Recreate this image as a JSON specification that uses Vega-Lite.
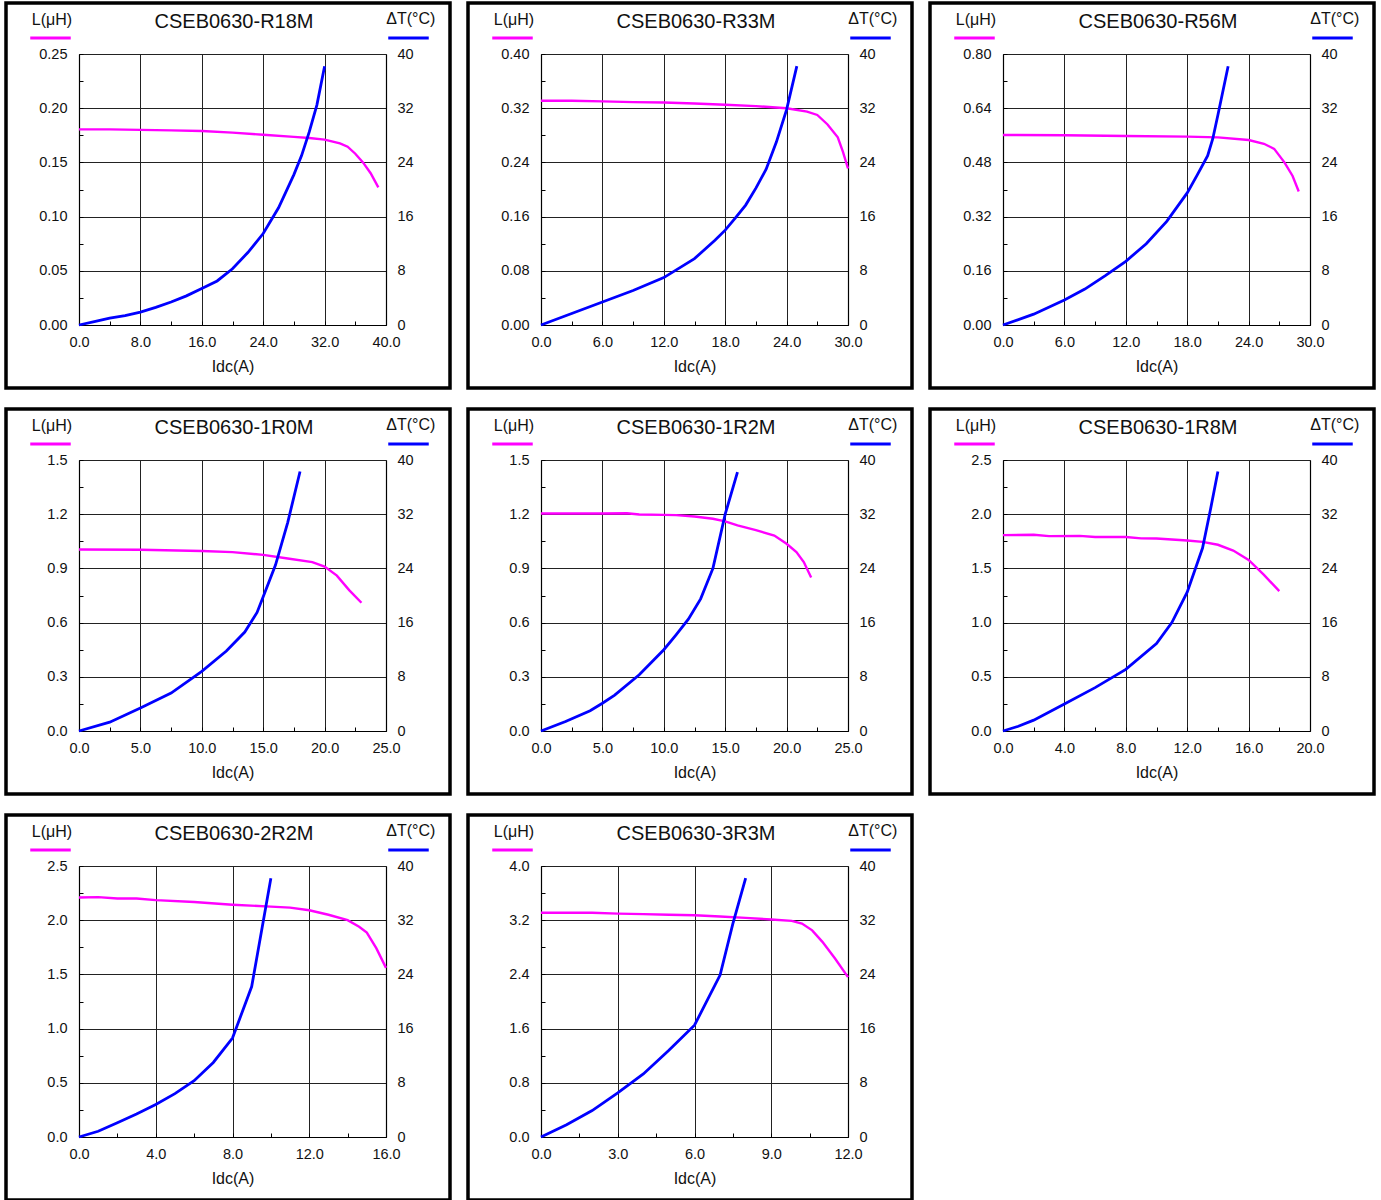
{
  "$schema": "https://vega.github.io/schema/vega-lite/v6.json",
  "padding": {"left": 4, "top": 1, "right": 0, "bottom": 0},
  "background": "white",
  "bounds": "flush",
  "columns": 3,
  "spacing": {"row": 21, "column": 18},
  "resolve": {"scale": {"color": "independent"}},
  "data": {"values": [
    {"p":"R18M","s":"L","i":0,"v":0.1805},{"p":"R18M","s":"L","i":4,"v":0.1805},{"p":"R18M","s":"L","i":8,"v":0.180},{"p":"R18M","s":"L","i":12,"v":0.1795},{"p":"R18M","s":"L","i":16,"v":0.179},{"p":"R18M","s":"L","i":20,"v":0.1775},{"p":"R18M","s":"L","i":24,"v":0.1755},{"p":"R18M","s":"L","i":28,"v":0.1735},{"p":"R18M","s":"L","i":30,"v":0.1725},{"p":"R18M","s":"L","i":32,"v":0.171},{"p":"R18M","s":"L","i":34,"v":0.1675},{"p":"R18M","s":"L","i":35,"v":0.1645},{"p":"R18M","s":"L","i":36,"v":0.158},{"p":"R18M","s":"L","i":37,"v":0.150},{"p":"R18M","s":"L","i":38,"v":0.140},{"p":"R18M","s":"L","i":39,"v":0.127},
    {"p":"R18M","s":"T","i":0,"v":0},{"p":"R18M","s":"T","i":2,"v":0.5},{"p":"R18M","s":"T","i":4,"v":1.0},{"p":"R18M","s":"T","i":6,"v":1.4},{"p":"R18M","s":"T","i":8,"v":1.9},{"p":"R18M","s":"T","i":10,"v":2.6},{"p":"R18M","s":"T","i":12,"v":3.4},{"p":"R18M","s":"T","i":14,"v":4.3},{"p":"R18M","s":"T","i":16,"v":5.4},{"p":"R18M","s":"T","i":18,"v":6.5},{"p":"R18M","s":"T","i":20,"v":8.3},{"p":"R18M","s":"T","i":22,"v":10.7},{"p":"R18M","s":"T","i":24,"v":13.5},{"p":"R18M","s":"T","i":26,"v":17.3},{"p":"R18M","s":"T","i":28,"v":22.2},{"p":"R18M","s":"T","i":29,"v":25.0},{"p":"R18M","s":"T","i":30,"v":28.5},{"p":"R18M","s":"T","i":31,"v":32.5},{"p":"R18M","s":"T","i":32,"v":38.2},

    {"p":"R33M","s":"L","i":0,"v":0.331},{"p":"R33M","s":"L","i":3,"v":0.331},{"p":"R33M","s":"L","i":6,"v":0.330},{"p":"R33M","s":"L","i":9,"v":0.329},{"p":"R33M","s":"L","i":12,"v":0.3285},{"p":"R33M","s":"L","i":15,"v":0.327},{"p":"R33M","s":"L","i":18,"v":0.325},{"p":"R33M","s":"L","i":21,"v":0.323},{"p":"R33M","s":"L","i":24,"v":0.320},{"p":"R33M","s":"L","i":26,"v":0.315},{"p":"R33M","s":"L","i":27,"v":0.310},{"p":"R33M","s":"L","i":28,"v":0.296},{"p":"R33M","s":"L","i":29,"v":0.277},{"p":"R33M","s":"L","i":29.5,"v":0.256},{"p":"R33M","s":"L","i":30,"v":0.231},
    {"p":"R33M","s":"T","i":0,"v":0},{"p":"R33M","s":"T","i":3,"v":1.7},{"p":"R33M","s":"T","i":6,"v":3.4},{"p":"R33M","s":"T","i":9,"v":5.1},{"p":"R33M","s":"T","i":12,"v":7.0},{"p":"R33M","s":"T","i":15,"v":9.8},{"p":"R33M","s":"T","i":17,"v":12.5},{"p":"R33M","s":"T","i":18,"v":14.0},{"p":"R33M","s":"T","i":19,"v":15.8},{"p":"R33M","s":"T","i":20,"v":17.7},{"p":"R33M","s":"T","i":21,"v":20.2},{"p":"R33M","s":"T","i":22,"v":23.0},{"p":"R33M","s":"T","i":23,"v":27.0},{"p":"R33M","s":"T","i":24,"v":31.8},{"p":"R33M","s":"T","i":25,"v":38.2},

    {"p":"R56M","s":"L","i":0,"v":0.561},{"p":"R56M","s":"L","i":6,"v":0.560},{"p":"R56M","s":"L","i":12,"v":0.558},{"p":"R56M","s":"L","i":18,"v":0.556},{"p":"R56M","s":"L","i":21,"v":0.554},{"p":"R56M","s":"L","i":24,"v":0.546},{"p":"R56M","s":"L","i":25.5,"v":0.535},{"p":"R56M","s":"L","i":26.5,"v":0.52},{"p":"R56M","s":"L","i":27.5,"v":0.48},{"p":"R56M","s":"L","i":28.3,"v":0.44},{"p":"R56M","s":"L","i":28.9,"v":0.394},
    {"p":"R56M","s":"T","i":0,"v":0},{"p":"R56M","s":"T","i":3,"v":1.6},{"p":"R56M","s":"T","i":6,"v":3.7},{"p":"R56M","s":"T","i":8,"v":5.3},{"p":"R56M","s":"T","i":10,"v":7.3},{"p":"R56M","s":"T","i":12,"v":9.4},{"p":"R56M","s":"T","i":14,"v":12.0},{"p":"R56M","s":"T","i":16,"v":15.3},{"p":"R56M","s":"T","i":18,"v":19.5},{"p":"R56M","s":"T","i":19,"v":22.2},{"p":"R56M","s":"T","i":20,"v":25.0},{"p":"R56M","s":"T","i":20.5,"v":27.5},{"p":"R56M","s":"T","i":21,"v":31.0},{"p":"R56M","s":"T","i":22,"v":38.2},

    {"p":"1R0M","s":"L","i":0,"v":1.005},{"p":"1R0M","s":"L","i":5,"v":1.003},{"p":"1R0M","s":"L","i":10,"v":0.996},{"p":"1R0M","s":"L","i":12.5,"v":0.99},{"p":"1R0M","s":"L","i":15,"v":0.975},{"p":"1R0M","s":"L","i":17,"v":0.955},{"p":"1R0M","s":"L","i":19,"v":0.935},{"p":"1R0M","s":"L","i":20,"v":0.91},{"p":"1R0M","s":"L","i":21,"v":0.86},{"p":"1R0M","s":"L","i":22,"v":0.78},{"p":"1R0M","s":"L","i":23,"v":0.71},
    {"p":"1R0M","s":"T","i":0,"v":0},{"p":"1R0M","s":"T","i":2.5,"v":1.3},{"p":"1R0M","s":"T","i":5,"v":3.4},{"p":"1R0M","s":"T","i":7.5,"v":5.6},{"p":"1R0M","s":"T","i":10,"v":8.8},{"p":"1R0M","s":"T","i":12,"v":11.8},{"p":"1R0M","s":"T","i":13.5,"v":14.6},{"p":"1R0M","s":"T","i":14.5,"v":17.5},{"p":"1R0M","s":"T","i":15,"v":19.8},{"p":"1R0M","s":"T","i":16,"v":24.5},{"p":"1R0M","s":"T","i":17,"v":30.8},{"p":"1R0M","s":"T","i":18,"v":38.3},

    {"p":"1R2M","s":"L","i":0,"v":1.204},{"p":"1R2M","s":"L","i":5,"v":1.204},{"p":"1R2M","s":"L","i":7,"v":1.205},{"p":"1R2M","s":"L","i":8,"v":1.198},{"p":"1R2M","s":"L","i":10,"v":1.196},{"p":"1R2M","s":"L","i":11,"v":1.195},{"p":"1R2M","s":"L","i":12.5,"v":1.187},{"p":"1R2M","s":"L","i":14,"v":1.175},{"p":"1R2M","s":"L","i":15,"v":1.16},{"p":"1R2M","s":"L","i":16,"v":1.138},{"p":"1R2M","s":"L","i":17.5,"v":1.112},{"p":"1R2M","s":"L","i":19,"v":1.082},{"p":"1R2M","s":"L","i":20,"v":1.036},{"p":"1R2M","s":"L","i":20.8,"v":0.99},{"p":"1R2M","s":"L","i":21.4,"v":0.935},{"p":"1R2M","s":"L","i":22,"v":0.85},
    {"p":"1R2M","s":"T","i":0,"v":0},{"p":"1R2M","s":"T","i":2,"v":1.4},{"p":"1R2M","s":"T","i":4,"v":3.0},{"p":"1R2M","s":"T","i":5,"v":4.1},{"p":"1R2M","s":"T","i":6,"v":5.3},{"p":"1R2M","s":"T","i":8,"v":8.3},{"p":"1R2M","s":"T","i":10,"v":12.0},{"p":"1R2M","s":"T","i":11,"v":14.2},{"p":"1R2M","s":"T","i":12,"v":16.5},{"p":"1R2M","s":"T","i":13,"v":19.5},{"p":"1R2M","s":"T","i":14,"v":24.0},{"p":"1R2M","s":"T","i":15,"v":32.0},{"p":"1R2M","s":"T","i":16,"v":38.2},

    {"p":"1R8M","s":"L","i":0,"v":1.807},{"p":"1R8M","s":"L","i":2,"v":1.81},{"p":"1R8M","s":"L","i":3,"v":1.798},{"p":"1R8M","s":"L","i":5,"v":1.80},{"p":"1R8M","s":"L","i":6,"v":1.79},{"p":"1R8M","s":"L","i":8,"v":1.79},{"p":"1R8M","s":"L","i":9,"v":1.777},{"p":"1R8M","s":"L","i":10,"v":1.776},{"p":"1R8M","s":"L","i":12,"v":1.757},{"p":"1R8M","s":"L","i":13,"v":1.745},{"p":"1R8M","s":"L","i":14,"v":1.718},{"p":"1R8M","s":"L","i":15,"v":1.665},{"p":"1R8M","s":"L","i":16,"v":1.578},{"p":"1R8M","s":"L","i":17,"v":1.44},{"p":"1R8M","s":"L","i":18,"v":1.29},
    {"p":"1R8M","s":"T","i":0,"v":0},{"p":"1R8M","s":"T","i":1,"v":0.7},{"p":"1R8M","s":"T","i":2,"v":1.6},{"p":"1R8M","s":"T","i":4,"v":4.0},{"p":"1R8M","s":"T","i":6,"v":6.4},{"p":"1R8M","s":"T","i":8,"v":9.1},{"p":"1R8M","s":"T","i":10,"v":12.9},{"p":"1R8M","s":"T","i":11,"v":16.0},{"p":"1R8M","s":"T","i":12,"v":20.5},{"p":"1R8M","s":"T","i":13,"v":27.0},{"p":"1R8M","s":"T","i":13.5,"v":32.5},{"p":"1R8M","s":"T","i":14,"v":38.3},

    {"p":"2R2M","s":"L","i":0,"v":2.21},{"p":"2R2M","s":"L","i":1,"v":2.213},{"p":"2R2M","s":"L","i":2,"v":2.20},{"p":"2R2M","s":"L","i":3,"v":2.20},{"p":"2R2M","s":"L","i":4,"v":2.185},{"p":"2R2M","s":"L","i":6,"v":2.168},{"p":"2R2M","s":"L","i":8,"v":2.143},{"p":"2R2M","s":"L","i":10,"v":2.125},{"p":"2R2M","s":"L","i":11,"v":2.116},{"p":"2R2M","s":"L","i":12,"v":2.092},{"p":"2R2M","s":"L","i":13,"v":2.05},{"p":"2R2M","s":"L","i":14,"v":2.0},{"p":"2R2M","s":"L","i":14.6,"v":1.94},{"p":"2R2M","s":"L","i":15,"v":1.885},{"p":"2R2M","s":"L","i":15.5,"v":1.74},{"p":"2R2M","s":"L","i":16,"v":1.56},
    {"p":"2R2M","s":"T","i":0,"v":0},{"p":"2R2M","s":"T","i":1,"v":0.85},{"p":"2R2M","s":"T","i":2,"v":2.1},{"p":"2R2M","s":"T","i":3,"v":3.4},{"p":"2R2M","s":"T","i":4,"v":4.8},{"p":"2R2M","s":"T","i":5,"v":6.4},{"p":"2R2M","s":"T","i":6,"v":8.3},{"p":"2R2M","s":"T","i":7,"v":11.0},{"p":"2R2M","s":"T","i":8,"v":14.6},{"p":"2R2M","s":"T","i":9,"v":22.2},{"p":"2R2M","s":"T","i":10,"v":38.2},

    {"p":"3R3M","s":"L","i":0,"v":3.31},{"p":"3R3M","s":"L","i":2,"v":3.31},{"p":"3R3M","s":"L","i":3,"v":3.297},{"p":"3R3M","s":"L","i":4,"v":3.29},{"p":"3R3M","s":"L","i":5,"v":3.28},{"p":"3R3M","s":"L","i":6,"v":3.272},{"p":"3R3M","s":"L","i":7,"v":3.255},{"p":"3R3M","s":"L","i":8,"v":3.235},{"p":"3R3M","s":"L","i":9,"v":3.21},{"p":"3R3M","s":"L","i":9.8,"v":3.19},{"p":"3R3M","s":"L","i":10.2,"v":3.15},{"p":"3R3M","s":"L","i":10.6,"v":3.05},{"p":"3R3M","s":"L","i":11,"v":2.88},{"p":"3R3M","s":"L","i":11.5,"v":2.63},{"p":"3R3M","s":"L","i":12,"v":2.36},
    {"p":"3R3M","s":"T","i":0,"v":0},{"p":"3R3M","s":"T","i":1,"v":1.8},{"p":"3R3M","s":"T","i":2,"v":3.9},{"p":"3R3M","s":"T","i":3,"v":6.5},{"p":"3R3M","s":"T","i":4,"v":9.3},{"p":"3R3M","s":"T","i":5,"v":12.8},{"p":"3R3M","s":"T","i":6,"v":16.5},{"p":"3R3M","s":"T","i":7,"v":23.9},{"p":"3R3M","s":"T","i":7.5,"v":31.5},{"p":"3R3M","s":"T","i":8,"v":38.2}
  ]},
  "concat": [
    {"title": "CSEB0630-R18M", "width": 444, "height": 385,
     "transform": [{"filter": "datum.p=='R18M'"}],
     "layer": [
      {"transform": [{"filter": "datum.s=='L'"}], "mark": {"type": "line", "opacity": 0},
       "encoding": {
        "x": {"field": "i", "type": "quantitative", "scale": {"domain": [0, 40], "range": [73, 380], "nice": false, "zero": false},
              "axis": {"orient": "top", "offset": 0, "grid": true, "labels": false, "ticks": false, "domain": false, "title": null, "values": [0,8,16,24,32,40]}},
        "y": {"field": "v", "type": "quantitative", "scale": {"domain": [0, 0.25], "range": [322, 51], "nice": false},
              "axis": {"orient": "left", "offset": 0, "grid": true, "labels": false, "ticks": false, "domain": false, "title": null, "values": [0,0.05,0.1,0.15,0.2,0.25]}}
       }},
      {"transform": [{"filter": "datum.s=='L'"}], "mark": {"type": "line", "strokeWidth": 2.4},
       "encoding": {
        "x": {"field": "i", "type": "quantitative",
              "axis": {"orient": "bottom", "grid": false, "title": "Idc(A)", "values": [0,4,8,12,16,20,24,28,32,36,40], "format": ".1f", "labelExpr": "round(datum.index*10)%2==0 ? datum.label : ''"}},
        "y": {"field": "v", "type": "quantitative", "scale": {"domain": [0, 0.25], "range": [322, 51], "nice": false},
              "axis": {"orient": "left", "grid": false, "title": "L(μH)", "values": [0,0.025,0.05,0.075,0.1,0.125,0.15,0.175,0.2,0.225,0.25], "format": ".2f", "labelExpr": "round(datum.index*10)%2==0 ? datum.label : ''"}},
        "color": {"field": "s", "type": "nominal", "scale": {"domain": ["L", "T"], "range": ["#ff00ff", "#0000ff"]},
                  "legend": {"title": null, "orient": "none", "legendX": 22.5, "legendY": 13, "direction": "horizontal", "columns": 2, "columnPadding": 304, "symbolType": "stroke", "symbolSize": 1640, "symbolStrokeWidth": 3, "labelExpr": "''", "labelOffset": 0, "padding": 0}}
       }},
      {"transform": [{"filter": "datum.s=='T'"}], "mark": {"type": "line", "strokeWidth": 2.8},
       "encoding": {
        "x": {"field": "i", "type": "quantitative", "axis": null},
        "y": {"field": "v", "type": "quantitative", "scale": {"domain": [0, 40], "range": [322, 51], "nice": false},
              "axis": {"orient": "right", "title": "ΔT(°C)", "values": [0,8,16,24,32,40], "format": "d", "grid": false}},
        "color": {"field": "s", "type": "nominal"}
       }}
     ],
     "resolve": {"scale": {"y": "independent"}, "axis": {"x": "independent", "y": "independent"}}},

    {"title": "CSEB0630-R33M", "width": 444, "height": 385,
     "transform": [{"filter": "datum.p=='R33M'"}],
     "layer": [
      {"transform": [{"filter": "datum.s=='L'"}], "mark": {"type": "line", "opacity": 0},
       "encoding": {
        "x": {"field": "i", "type": "quantitative", "scale": {"domain": [0, 30], "range": [73, 380], "nice": false, "zero": false},
              "axis": {"orient": "top", "offset": 0, "grid": true, "labels": false, "ticks": false, "domain": false, "title": null, "values": [0,6,12,18,24,30]}},
        "y": {"field": "v", "type": "quantitative", "scale": {"domain": [0, 0.4], "range": [322, 51], "nice": false},
              "axis": {"orient": "left", "offset": 0, "grid": true, "labels": false, "ticks": false, "domain": false, "title": null, "values": [0,0.08,0.16,0.24,0.32,0.4]}}
       }},
      {"transform": [{"filter": "datum.s=='L'"}], "mark": {"type": "line", "strokeWidth": 2.4},
       "encoding": {
        "x": {"field": "i", "type": "quantitative",
              "axis": {"orient": "bottom", "grid": false, "title": "Idc(A)", "values": [0,3,6,9,12,15,18,21,24,27,30], "format": ".1f", "labelExpr": "round(datum.index*10)%2==0 ? datum.label : ''"}},
        "y": {"field": "v", "type": "quantitative", "scale": {"domain": [0, 0.4], "range": [322, 51], "nice": false},
              "axis": {"orient": "left", "grid": false, "title": "L(μH)", "values": [0,0.04,0.08,0.12,0.16,0.2,0.24,0.28,0.32,0.36,0.4], "format": ".2f", "labelExpr": "round(datum.index*10)%2==0 ? datum.label : ''"}},
        "color": {"field": "s", "type": "nominal", "scale": {"domain": ["L", "T"], "range": ["#ff00ff", "#0000ff"]},
                  "legend": {"title": null, "orient": "none", "legendX": 22.5, "legendY": 13, "direction": "horizontal", "columns": 2, "columnPadding": 304, "symbolType": "stroke", "symbolSize": 1640, "symbolStrokeWidth": 3, "labelExpr": "''", "labelOffset": 0, "padding": 0}}
       }},
      {"transform": [{"filter": "datum.s=='T'"}], "mark": {"type": "line", "strokeWidth": 2.8},
       "encoding": {
        "x": {"field": "i", "type": "quantitative", "axis": null},
        "y": {"field": "v", "type": "quantitative", "scale": {"domain": [0, 40], "range": [322, 51], "nice": false},
              "axis": {"orient": "right", "title": "ΔT(°C)", "values": [0,8,16,24,32,40], "format": "d", "grid": false}},
        "color": {"field": "s", "type": "nominal"}
       }}
     ],
     "resolve": {"scale": {"y": "independent"}, "axis": {"x": "independent", "y": "independent"}}},

    {"title": "CSEB0630-R56M", "width": 444, "height": 385,
     "transform": [{"filter": "datum.p=='R56M'"}],
     "layer": [
      {"transform": [{"filter": "datum.s=='L'"}], "mark": {"type": "line", "opacity": 0},
       "encoding": {
        "x": {"field": "i", "type": "quantitative", "scale": {"domain": [0, 30], "range": [73, 380], "nice": false, "zero": false},
              "axis": {"orient": "top", "offset": 0, "grid": true, "labels": false, "ticks": false, "domain": false, "title": null, "values": [0,6,12,18,24,30]}},
        "y": {"field": "v", "type": "quantitative", "scale": {"domain": [0, 0.8], "range": [322, 51], "nice": false},
              "axis": {"orient": "left", "offset": 0, "grid": true, "labels": false, "ticks": false, "domain": false, "title": null, "values": [0,0.16,0.32,0.48,0.64,0.8]}}
       }},
      {"transform": [{"filter": "datum.s=='L'"}], "mark": {"type": "line", "strokeWidth": 2.4},
       "encoding": {
        "x": {"field": "i", "type": "quantitative",
              "axis": {"orient": "bottom", "grid": false, "title": "Idc(A)", "values": [0,3,6,9,12,15,18,21,24,27,30], "format": ".1f", "labelExpr": "round(datum.index*10)%2==0 ? datum.label : ''"}},
        "y": {"field": "v", "type": "quantitative", "scale": {"domain": [0, 0.8], "range": [322, 51], "nice": false},
              "axis": {"orient": "left", "grid": false, "title": "L(μH)", "values": [0,0.08,0.16,0.24,0.32,0.4,0.48,0.56,0.64,0.72,0.8], "format": ".2f", "labelExpr": "round(datum.index*10)%2==0 ? datum.label : ''"}},
        "color": {"field": "s", "type": "nominal", "scale": {"domain": ["L", "T"], "range": ["#ff00ff", "#0000ff"]},
                  "legend": {"title": null, "orient": "none", "legendX": 22.5, "legendY": 13, "direction": "horizontal", "columns": 2, "columnPadding": 304, "symbolType": "stroke", "symbolSize": 1640, "symbolStrokeWidth": 3, "labelExpr": "''", "labelOffset": 0, "padding": 0}}
       }},
      {"transform": [{"filter": "datum.s=='T'"}], "mark": {"type": "line", "strokeWidth": 2.8},
       "encoding": {
        "x": {"field": "i", "type": "quantitative", "axis": null},
        "y": {"field": "v", "type": "quantitative", "scale": {"domain": [0, 40], "range": [322, 51], "nice": false},
              "axis": {"orient": "right", "title": "ΔT(°C)", "values": [0,8,16,24,32,40], "format": "d", "grid": false}},
        "color": {"field": "s", "type": "nominal"}
       }}
     ],
     "resolve": {"scale": {"y": "independent"}, "axis": {"x": "independent", "y": "independent"}}},

    {"title": "CSEB0630-1R0M", "width": 444, "height": 385,
     "transform": [{"filter": "datum.p=='1R0M'"}],
     "layer": [
      {"transform": [{"filter": "datum.s=='L'"}], "mark": {"type": "line", "opacity": 0},
       "encoding": {
        "x": {"field": "i", "type": "quantitative", "scale": {"domain": [0, 25], "range": [73, 380], "nice": false, "zero": false},
              "axis": {"orient": "top", "offset": 0, "grid": true, "labels": false, "ticks": false, "domain": false, "title": null, "values": [0,5,10,15,20,25]}},
        "y": {"field": "v", "type": "quantitative", "scale": {"domain": [0, 1.5], "range": [322, 51], "nice": false},
              "axis": {"orient": "left", "offset": 0, "grid": true, "labels": false, "ticks": false, "domain": false, "title": null, "values": [0,0.3,0.6,0.9,1.2,1.5]}}
       }},
      {"transform": [{"filter": "datum.s=='L'"}], "mark": {"type": "line", "strokeWidth": 2.4},
       "encoding": {
        "x": {"field": "i", "type": "quantitative",
              "axis": {"orient": "bottom", "grid": false, "title": "Idc(A)", "values": [0,2.5,5,7.5,10,12.5,15,17.5,20,22.5,25], "format": ".1f", "labelExpr": "round(datum.index*10)%2==0 ? datum.label : ''"}},
        "y": {"field": "v", "type": "quantitative", "scale": {"domain": [0, 1.5], "range": [322, 51], "nice": false},
              "axis": {"orient": "left", "grid": false, "title": "L(μH)", "values": [0,0.15,0.3,0.45,0.6,0.75,0.9,1.05,1.2,1.35,1.5], "format": ".1f", "labelExpr": "round(datum.index*10)%2==0 ? datum.label : ''"}},
        "color": {"field": "s", "type": "nominal", "scale": {"domain": ["L", "T"], "range": ["#ff00ff", "#0000ff"]},
                  "legend": {"title": null, "orient": "none", "legendX": 22.5, "legendY": 13, "direction": "horizontal", "columns": 2, "columnPadding": 304, "symbolType": "stroke", "symbolSize": 1640, "symbolStrokeWidth": 3, "labelExpr": "''", "labelOffset": 0, "padding": 0}}
       }},
      {"transform": [{"filter": "datum.s=='T'"}], "mark": {"type": "line", "strokeWidth": 2.8},
       "encoding": {
        "x": {"field": "i", "type": "quantitative", "axis": null},
        "y": {"field": "v", "type": "quantitative", "scale": {"domain": [0, 40], "range": [322, 51], "nice": false},
              "axis": {"orient": "right", "title": "ΔT(°C)", "values": [0,8,16,24,32,40], "format": "d", "grid": false}},
        "color": {"field": "s", "type": "nominal"}
       }}
     ],
     "resolve": {"scale": {"y": "independent"}, "axis": {"x": "independent", "y": "independent"}}},

    {"title": "CSEB0630-1R2M", "width": 444, "height": 385,
     "transform": [{"filter": "datum.p=='1R2M'"}],
     "layer": [
      {"transform": [{"filter": "datum.s=='L'"}], "mark": {"type": "line", "opacity": 0},
       "encoding": {
        "x": {"field": "i", "type": "quantitative", "scale": {"domain": [0, 25], "range": [73, 380], "nice": false, "zero": false},
              "axis": {"orient": "top", "offset": 0, "grid": true, "labels": false, "ticks": false, "domain": false, "title": null, "values": [0,5,10,15,20,25]}},
        "y": {"field": "v", "type": "quantitative", "scale": {"domain": [0, 1.5], "range": [322, 51], "nice": false},
              "axis": {"orient": "left", "offset": 0, "grid": true, "labels": false, "ticks": false, "domain": false, "title": null, "values": [0,0.3,0.6,0.9,1.2,1.5]}}
       }},
      {"transform": [{"filter": "datum.s=='L'"}], "mark": {"type": "line", "strokeWidth": 2.4},
       "encoding": {
        "x": {"field": "i", "type": "quantitative",
              "axis": {"orient": "bottom", "grid": false, "title": "Idc(A)", "values": [0,2.5,5,7.5,10,12.5,15,17.5,20,22.5,25], "format": ".1f", "labelExpr": "round(datum.index*10)%2==0 ? datum.label : ''"}},
        "y": {"field": "v", "type": "quantitative", "scale": {"domain": [0, 1.5], "range": [322, 51], "nice": false},
              "axis": {"orient": "left", "grid": false, "title": "L(μH)", "values": [0,0.15,0.3,0.45,0.6,0.75,0.9,1.05,1.2,1.35,1.5], "format": ".1f", "labelExpr": "round(datum.index*10)%2==0 ? datum.label : ''"}},
        "color": {"field": "s", "type": "nominal", "scale": {"domain": ["L", "T"], "range": ["#ff00ff", "#0000ff"]},
                  "legend": {"title": null, "orient": "none", "legendX": 22.5, "legendY": 13, "direction": "horizontal", "columns": 2, "columnPadding": 304, "symbolType": "stroke", "symbolSize": 1640, "symbolStrokeWidth": 3, "labelExpr": "''", "labelOffset": 0, "padding": 0}}
       }},
      {"transform": [{"filter": "datum.s=='T'"}], "mark": {"type": "line", "strokeWidth": 2.8},
       "encoding": {
        "x": {"field": "i", "type": "quantitative", "axis": null},
        "y": {"field": "v", "type": "quantitative", "scale": {"domain": [0, 40], "range": [322, 51], "nice": false},
              "axis": {"orient": "right", "title": "ΔT(°C)", "values": [0,8,16,24,32,40], "format": "d", "grid": false}},
        "color": {"field": "s", "type": "nominal"}
       }}
     ],
     "resolve": {"scale": {"y": "independent"}, "axis": {"x": "independent", "y": "independent"}}},

    {"title": "CSEB0630-1R8M", "width": 444, "height": 385,
     "transform": [{"filter": "datum.p=='1R8M'"}],
     "layer": [
      {"transform": [{"filter": "datum.s=='L'"}], "mark": {"type": "line", "opacity": 0},
       "encoding": {
        "x": {"field": "i", "type": "quantitative", "scale": {"domain": [0, 20], "range": [73, 380], "nice": false, "zero": false},
              "axis": {"orient": "top", "offset": 0, "grid": true, "labels": false, "ticks": false, "domain": false, "title": null, "values": [0,4,8,12,16,20]}},
        "y": {"field": "v", "type": "quantitative", "scale": {"domain": [0, 2.5], "range": [322, 51], "nice": false},
              "axis": {"orient": "left", "offset": 0, "grid": true, "labels": false, "ticks": false, "domain": false, "title": null, "values": [0,0.5,1,1.5,2,2.5]}}
       }},
      {"transform": [{"filter": "datum.s=='L'"}], "mark": {"type": "line", "strokeWidth": 2.4},
       "encoding": {
        "x": {"field": "i", "type": "quantitative",
              "axis": {"orient": "bottom", "grid": false, "title": "Idc(A)", "values": [0,2,4,6,8,10,12,14,16,18,20], "format": ".1f", "labelExpr": "round(datum.index*10)%2==0 ? datum.label : ''"}},
        "y": {"field": "v", "type": "quantitative", "scale": {"domain": [0, 2.5], "range": [322, 51], "nice": false},
              "axis": {"orient": "left", "grid": false, "title": "L(μH)", "values": [0,0.25,0.5,0.75,1,1.25,1.5,1.75,2,2.25,2.5], "format": ".1f", "labelExpr": "round(datum.index*10)%2==0 ? datum.label : ''"}},
        "color": {"field": "s", "type": "nominal", "scale": {"domain": ["L", "T"], "range": ["#ff00ff", "#0000ff"]},
                  "legend": {"title": null, "orient": "none", "legendX": 22.5, "legendY": 13, "direction": "horizontal", "columns": 2, "columnPadding": 304, "symbolType": "stroke", "symbolSize": 1640, "symbolStrokeWidth": 3, "labelExpr": "''", "labelOffset": 0, "padding": 0}}
       }},
      {"transform": [{"filter": "datum.s=='T'"}], "mark": {"type": "line", "strokeWidth": 2.8},
       "encoding": {
        "x": {"field": "i", "type": "quantitative", "axis": null},
        "y": {"field": "v", "type": "quantitative", "scale": {"domain": [0, 40], "range": [322, 51], "nice": false},
              "axis": {"orient": "right", "title": "ΔT(°C)", "values": [0,8,16,24,32,40], "format": "d", "grid": false}},
        "color": {"field": "s", "type": "nominal"}
       }}
     ],
     "resolve": {"scale": {"y": "independent"}, "axis": {"x": "independent", "y": "independent"}}},

    {"title": "CSEB0630-2R2M", "width": 444, "height": 385,
     "transform": [{"filter": "datum.p=='2R2M'"}],
     "layer": [
      {"transform": [{"filter": "datum.s=='L'"}], "mark": {"type": "line", "opacity": 0},
       "encoding": {
        "x": {"field": "i", "type": "quantitative", "scale": {"domain": [0, 16], "range": [73, 380], "nice": false, "zero": false},
              "axis": {"orient": "top", "offset": 0, "grid": true, "labels": false, "ticks": false, "domain": false, "title": null, "values": [0,4,8,12,16]}},
        "y": {"field": "v", "type": "quantitative", "scale": {"domain": [0, 2.5], "range": [322, 51], "nice": false},
              "axis": {"orient": "left", "offset": 0, "grid": true, "labels": false, "ticks": false, "domain": false, "title": null, "values": [0,0.5,1,1.5,2,2.5]}}
       }},
      {"transform": [{"filter": "datum.s=='L'"}], "mark": {"type": "line", "strokeWidth": 2.4},
       "encoding": {
        "x": {"field": "i", "type": "quantitative",
              "axis": {"orient": "bottom", "grid": false, "title": "Idc(A)", "values": [0,2,4,6,8,10,12,14,16], "format": ".1f", "labelExpr": "round(datum.index*8)%2==0 ? datum.label : ''"}},
        "y": {"field": "v", "type": "quantitative", "scale": {"domain": [0, 2.5], "range": [322, 51], "nice": false},
              "axis": {"orient": "left", "grid": false, "title": "L(μH)", "values": [0,0.25,0.5,0.75,1,1.25,1.5,1.75,2,2.25,2.5], "format": ".1f", "labelExpr": "round(datum.index*10)%2==0 ? datum.label : ''"}},
        "color": {"field": "s", "type": "nominal", "scale": {"domain": ["L", "T"], "range": ["#ff00ff", "#0000ff"]},
                  "legend": {"title": null, "orient": "none", "legendX": 22.5, "legendY": 13, "direction": "horizontal", "columns": 2, "columnPadding": 304, "symbolType": "stroke", "symbolSize": 1640, "symbolStrokeWidth": 3, "labelExpr": "''", "labelOffset": 0, "padding": 0}}
       }},
      {"transform": [{"filter": "datum.s=='T'"}], "mark": {"type": "line", "strokeWidth": 2.8},
       "encoding": {
        "x": {"field": "i", "type": "quantitative", "axis": null},
        "y": {"field": "v", "type": "quantitative", "scale": {"domain": [0, 40], "range": [322, 51], "nice": false},
              "axis": {"orient": "right", "title": "ΔT(°C)", "values": [0,8,16,24,32,40], "format": "d", "grid": false}},
        "color": {"field": "s", "type": "nominal"}
       }}
     ],
     "resolve": {"scale": {"y": "independent"}, "axis": {"x": "independent", "y": "independent"}}},

    {"title": "CSEB0630-3R3M", "width": 444, "height": 385,
     "transform": [{"filter": "datum.p=='3R3M'"}],
     "layer": [
      {"transform": [{"filter": "datum.s=='L'"}], "mark": {"type": "line", "opacity": 0},
       "encoding": {
        "x": {"field": "i", "type": "quantitative", "scale": {"domain": [0, 12], "range": [73, 380], "nice": false, "zero": false},
              "axis": {"orient": "top", "offset": 0, "grid": true, "labels": false, "ticks": false, "domain": false, "title": null, "values": [0,3,6,9,12]}},
        "y": {"field": "v", "type": "quantitative", "scale": {"domain": [0, 4], "range": [322, 51], "nice": false},
              "axis": {"orient": "left", "offset": 0, "grid": true, "labels": false, "ticks": false, "domain": false, "title": null, "values": [0,0.8,1.6,2.4,3.2,4]}}
       }},
      {"transform": [{"filter": "datum.s=='L'"}], "mark": {"type": "line", "strokeWidth": 2.4},
       "encoding": {
        "x": {"field": "i", "type": "quantitative",
              "axis": {"orient": "bottom", "grid": false, "title": "Idc(A)", "values": [0,1.5,3,4.5,6,7.5,9,10.5,12], "format": ".1f", "labelExpr": "round(datum.index*8)%2==0 ? datum.label : ''"}},
        "y": {"field": "v", "type": "quantitative", "scale": {"domain": [0, 4], "range": [322, 51], "nice": false},
              "axis": {"orient": "left", "grid": false, "title": "L(μH)", "values": [0,0.4,0.8,1.2,1.6,2,2.4,2.8,3.2,3.6,4], "format": ".1f", "labelExpr": "round(datum.index*10)%2==0 ? datum.label : ''"}},
        "color": {"field": "s", "type": "nominal", "scale": {"domain": ["L", "T"], "range": ["#ff00ff", "#0000ff"]},
                  "legend": {"title": null, "orient": "none", "legendX": 22.5, "legendY": 13, "direction": "horizontal", "columns": 2, "columnPadding": 304, "symbolType": "stroke", "symbolSize": 1640, "symbolStrokeWidth": 3, "labelExpr": "''", "labelOffset": 0, "padding": 0}}
       }},
      {"transform": [{"filter": "datum.s=='T'"}], "mark": {"type": "line", "strokeWidth": 2.8},
       "encoding": {
        "x": {"field": "i", "type": "quantitative", "axis": null},
        "y": {"field": "v", "type": "quantitative", "scale": {"domain": [0, 40], "range": [322, 51], "nice": false},
              "axis": {"orient": "right", "title": "ΔT(°C)", "values": [0,8,16,24,32,40], "format": "d", "grid": false}},
        "color": {"field": "s", "type": "nominal"}
       }}
     ],
     "resolve": {"scale": {"y": "independent"}, "axis": {"x": "independent", "y": "independent"}}}
  ],
  "config": {
    "font": "Liberation Sans",
    "view": {"stroke": "#000000", "strokeWidth": 3.5, "fill": "white"},
    "title": {"font": "Liberation Sans", "fontSize": 20, "fontWeight": "normal", "color": "#111111", "anchor": "middle", "offset": -29, "dx": 6, "baseline": "bottom"},
    "axis": {"labelFont": "Liberation Sans", "labelFontSize": 14.5, "labelColor": "#111111", "titleFont": "Liberation Sans", "titleFontSize": 16, "titleFontWeight": "normal", "titleColor": "#111111", "domainColor": "#000000", "domainWidth": 1.2, "tickColor": "#000000", "tickWidth": 1, "gridColor": "#222222", "gridWidth": 1, "labelOverlap": false, "labelFlush": false, "labelBound": false},
    "axisLeft": {"offset": -73, "tickSize": -4, "labelPadding": 16, "titleAngle": 0, "titleAlign": "center", "titleBaseline": "middle", "titleX": -27.6, "titleY": 16},
    "axisRight": {"offset": -64, "ticks": false, "labelPadding": 11, "titleAngle": 0, "titleAlign": "center", "titleBaseline": "middle", "titleX": 24.3, "titleY": 15},
    "axisBottom": {"offset": -63, "tickSize": -4, "labelPadding": 14, "titleBaseline": "middle", "titleY": 41}
  }
}
